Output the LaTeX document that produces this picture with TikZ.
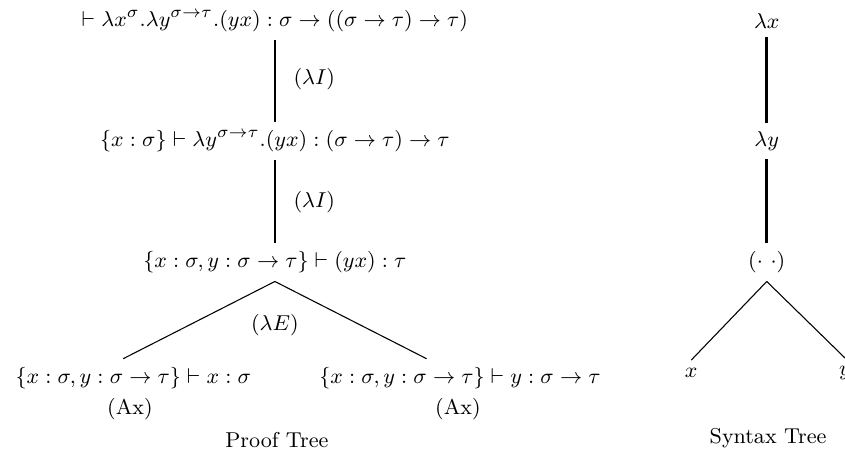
\documentclass[tikz,border=0pt]{standalone}
\usepackage{amsmath,amssymb}
\usepackage{tikz}
\usetikzlibrary{positioning}
\tikzset{
  pt diagram/.style={font=\fontsize{9.5}{11.5}\selectfont, line cap=butt, line join=miter},
  pt stem/.style={draw, line width=1.1pt},
  pt branch/.style={draw, line width=0.45pt},
  pt label/.style={font=\small},
  pt caption/.style={font=\small}
}

\begin{document}
\begin{tikzpicture}[pt diagram]
\useasboundingbox (0,0) rectangle (12.42,6.615);
% proof tree
\node (j1) at (4.04,6.31) {$\vdash \lambda x^{\sigma}.\lambda y^{\sigma\to\tau}.(yx) : \sigma \to ((\sigma \to \tau) \to \tau)$};
\node (j2) at (4.04,4.54) {$\{x:\sigma\} \vdash \lambda y^{\sigma\to\tau}.(yx) : (\sigma \to \tau) \to \tau$};
\node (j3) at (4.04,2.76) {$\{x:\sigma, y:\sigma\to\tau\} \vdash (yx) : \tau$};
\node (jl) at (1.96,1.06) {$\{x:\sigma, y:\sigma\to\tau\} \vdash x : \sigma$};
\node (jr) at (6.76,1.06) {$\{x:\sigma, y:\sigma\to\tau\} \vdash y : \sigma\to\tau$};
\draw[pt stem] (j1) -- (j2);
\draw[pt stem] (j2) -- (j3);
\draw[pt branch] (j3.south) -- ([xshift=-0.15cm]jl.north);
\draw[pt branch] (j3.south) -- ([xshift=-0.49cm]jr.north);
\node[pt label] (r1) at (4.62,5.45) {$(\lambda I)$};
\node[pt label] (r2) at (4.62,3.65) {$(\lambda I)$};
\node[pt label] (r3) at (4.04,1.84) {$(\lambda E)$};
\node[pt label] (axl) at (1.91,0.60) {(Ax)};
\node[pt label] (axr) at (6.73,0.60) {(Ax)};
\node[pt caption] (cap1) at (4.07,0.15) {Proof Tree};
% syntax tree
\node (s1) at (11.27,6.31) {$\lambda x$};
\node (s2) at (11.27,4.54) {$\lambda y$};
\node (s3) at (11.27,2.76) {$(\cdot\ \cdot)$};
\node (sl) at (10.16,1.13) {$x$};
\node (sr) at (12.42,1.13) {$y$};
\draw[pt stem] (s1) -- (s2);
\draw[pt stem] (s2) -- (s3);
\draw[pt branch] (s3.south) -- (sl.north);
\draw[pt branch] (s3.south) -- (sr.north);
\node[pt caption] (cap2) at (11.29,0.18) {Syntax Tree};
\end{tikzpicture}
\end{document}
